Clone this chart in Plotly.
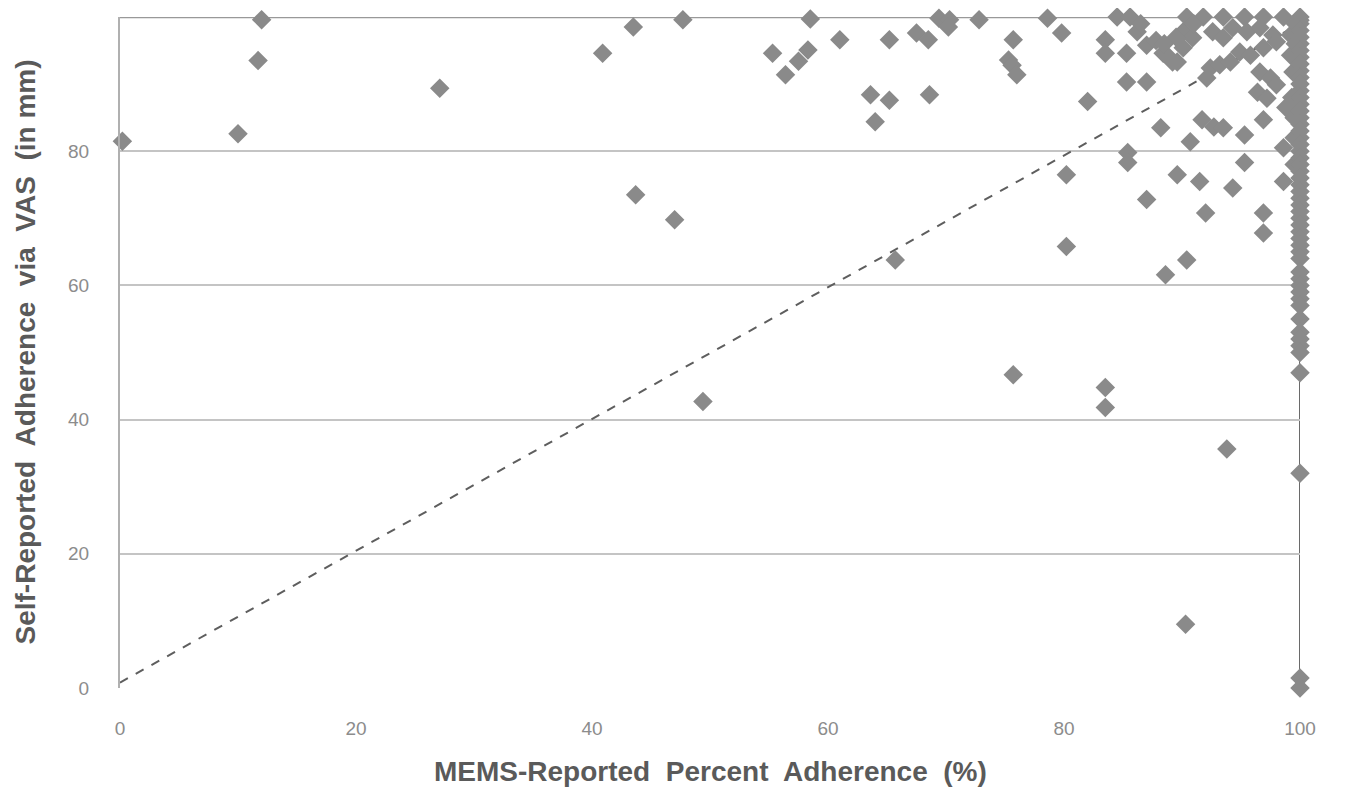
import plotly.graph_objects as go

# MEMS-reported percent adherence (x) and VAS self-report (y)
mems_x = [
    0.2, 10, 11.7, 12, 27.1, 40.9, 43.5, 43.7, 47, 47.7, 49.4,
    55.3, 56.4, 57.5, 58.3, 58.5, 61, 63.6, 64, 65.2, 65.2, 65.7, 67.5, 68.5, 68.6,
    69.4, 70.3, 70.2, 72.8, 75.3, 75.6, 75.7, 76, 75.7, 78.6, 79.8, 80.2, 80.2, 82,
    83.5, 83.5, 83.5, 83.5, 84.5, 85.6, 85.3, 86.2, 87, 85.3, 87, 85.4, 85.4, 87,
    88.2, 88.6, 88.4, 89.2, 90.1, 90.1, 89.6, 90.4, 90.7, 91.5, 92, 91.7, 92.7, 93.5,
    94.3, 95.3, 95.3, 96.9, 96.9, 96.9, 98.6, 98.6, 93.8, 90.3,
    90.4, 91.8, 93.5, 95.3, 96.9, 98.6, 90.9, 92.6, 93.5, 94.3, 95.5, 96.6, 97.7,
    92.4, 93.2, 94.1, 92.1, 94.9, 95.8, 96.9, 98, 99.2, 96.6, 97.5, 96.4, 97.2, 98,
    99.2, 99.4, 88.9, 89.6, 91, 89.5, 98.8, 99.3, 99.5, 99.5, 99.5, 99.6, 99.6,
    86.5, 87.8, 88.5,
    100, 100, 100, 100, 100, 100, 100, 100, 100, 100, 100, 100, 100, 100, 100, 100,
    100, 100, 100, 100, 100, 100, 100, 100, 100, 100, 100, 100, 100, 100, 100, 100,
    100, 100, 100, 100, 100, 100, 100, 100, 100, 100, 100, 100, 100, 100, 100, 100,
    100, 100, 100, 100, 100,
]
vas_y = [
    81.5, 82.6, 93.5, 99.6, 89.4, 94.6, 98.5, 73.5, 69.8, 99.6, 42.7,
    94.6, 91.4, 93.4, 95.1, 99.7, 96.6, 88.4, 84.4, 96.6, 87.6, 63.8, 97.6, 96.6, 88.4,
    99.8, 99.6, 98.5, 99.6, 93.6, 92.8, 96.6, 91.4, 46.7, 99.8, 97.6, 76.5, 65.8, 87.4,
    96.6, 94.6, 44.8, 41.8, 100, 100, 94.6, 97.8, 95.8, 90.3, 90.3, 79.8, 78.3, 72.8,
    83.5, 61.6, 94.6, 93.3, 97.8, 95.4, 76.5, 63.8, 81.4, 75.5, 70.8, 84.7, 83.6, 83.5,
    74.5, 82.4, 78.3, 84.7, 70.8, 67.8, 80.5, 75.5, 35.6, 9.5,
    100, 100, 100, 100, 100, 100, 96.9, 97.8, 96.9, 98.4, 97.8, 98.4, 97.3,
    92.4, 92.9, 93.3, 90.9, 94.8, 94.3, 95.4, 96.3, 97.3, 91.8, 90.9, 88.8, 87.9, 89.9,
    94.3, 91.8, 94, 93.3, 99, 97, 86.5, 88, 85, 82, 78, 99, 96,
    99, 96.5, 96,
    100, 99.5, 99, 98, 97, 96, 95, 94, 93, 92, 91, 90, 89, 88, 87, 86,
    85, 84, 83, 82, 81, 80, 79, 78, 77, 76, 75, 74, 73, 72, 71, 70,
    69, 68, 67, 66, 65, 64, 62, 61, 60, 59, 58, 57, 55, 53, 52, 51,
    50, 47, 32, 1.5, 0,
]

# reference (equality) line
ref_x = [0, 100]
ref_y = [0.8, 99]

x_ticks = [0, 20, 40, 60, 80, 100]
y_ticks = [0, 20, 40, 60, 80, 100]

fig = go.Figure()
fig.add_trace(go.Scatter(
    x=ref_x, y=ref_y, mode="lines",
    line=dict(color="#5e5e5e", width=2, dash="dash"),
    hoverinfo="skip", showlegend=False,
))
fig.add_trace(go.Scatter(
    x=mems_x, y=vas_y, mode="markers",
    marker=dict(symbol="diamond", size=15, color="#8a8a8a", line=dict(width=0)),
    cliponaxis=False, showlegend=False,
))

# vertical line at x = 100
fig.add_shape(type="line", xref="x", yref="y", x0=100, x1=100, y0=-1, y1=100,
              line=dict(color="#6a6a6a", width=2), layer="below")
# top border at 100
fig.add_shape(type="line", xref="x", yref="y", x0=0, x1=100, y0=100, y1=100,
              line=dict(color="#999999", width=2.5), layer="below")

tick_font = dict(family="Liberation Sans, Arial, sans-serif", size=19, color="#8c8c8c")
title_font = dict(family="Liberation Sans, Arial, sans-serif", size=28, color="#5a5a5a", weight="bold")

fig.update_layout(
    width=1345, height=797,
    margin=dict(l=112, r=53, t=9, b=117),
    paper_bgcolor="white", plot_bgcolor="white",
    xaxis=dict(
        range=[0, 100], tickvals=x_ticks, ticktext=[str(v) for v in x_ticks],
        showgrid=False, zeroline=False, showline=False,
        ticks="outside", ticklen=23, tickcolor="rgba(0,0,0,0)",
        tickfont=tick_font,
    ),
    yaxis=dict(
        range=[0, 100], tickvals=y_ticks, ticktext=[str(v) for v in y_ticks],
        showgrid=True, gridcolor="#c4c4c4", gridwidth=2,
        zeroline=False, showline=True, linecolor="#b0b0b0", linewidth=2,
        ticks="outside", ticklen=25, tickcolor="rgba(0,0,0,0)",
        tickfont=tick_font,
    ),
    annotations=[
        dict(text="MEMS-Reported  Percent  Adherence  (%)", xref="paper", yref="paper",
             x=0.5, y=0, xanchor="center", yanchor="middle", yshift=-83, showarrow=False,
             font=title_font),
        dict(text="Self-Reported  Adherence  via  VAS  (in mm)", xref="paper", yref="paper",
             x=0, y=0.5, xanchor="center", yanchor="middle", xshift=-95, textangle=-90,
             showarrow=False, font=title_font),
    ],
)

fig.write_html("out.html")
